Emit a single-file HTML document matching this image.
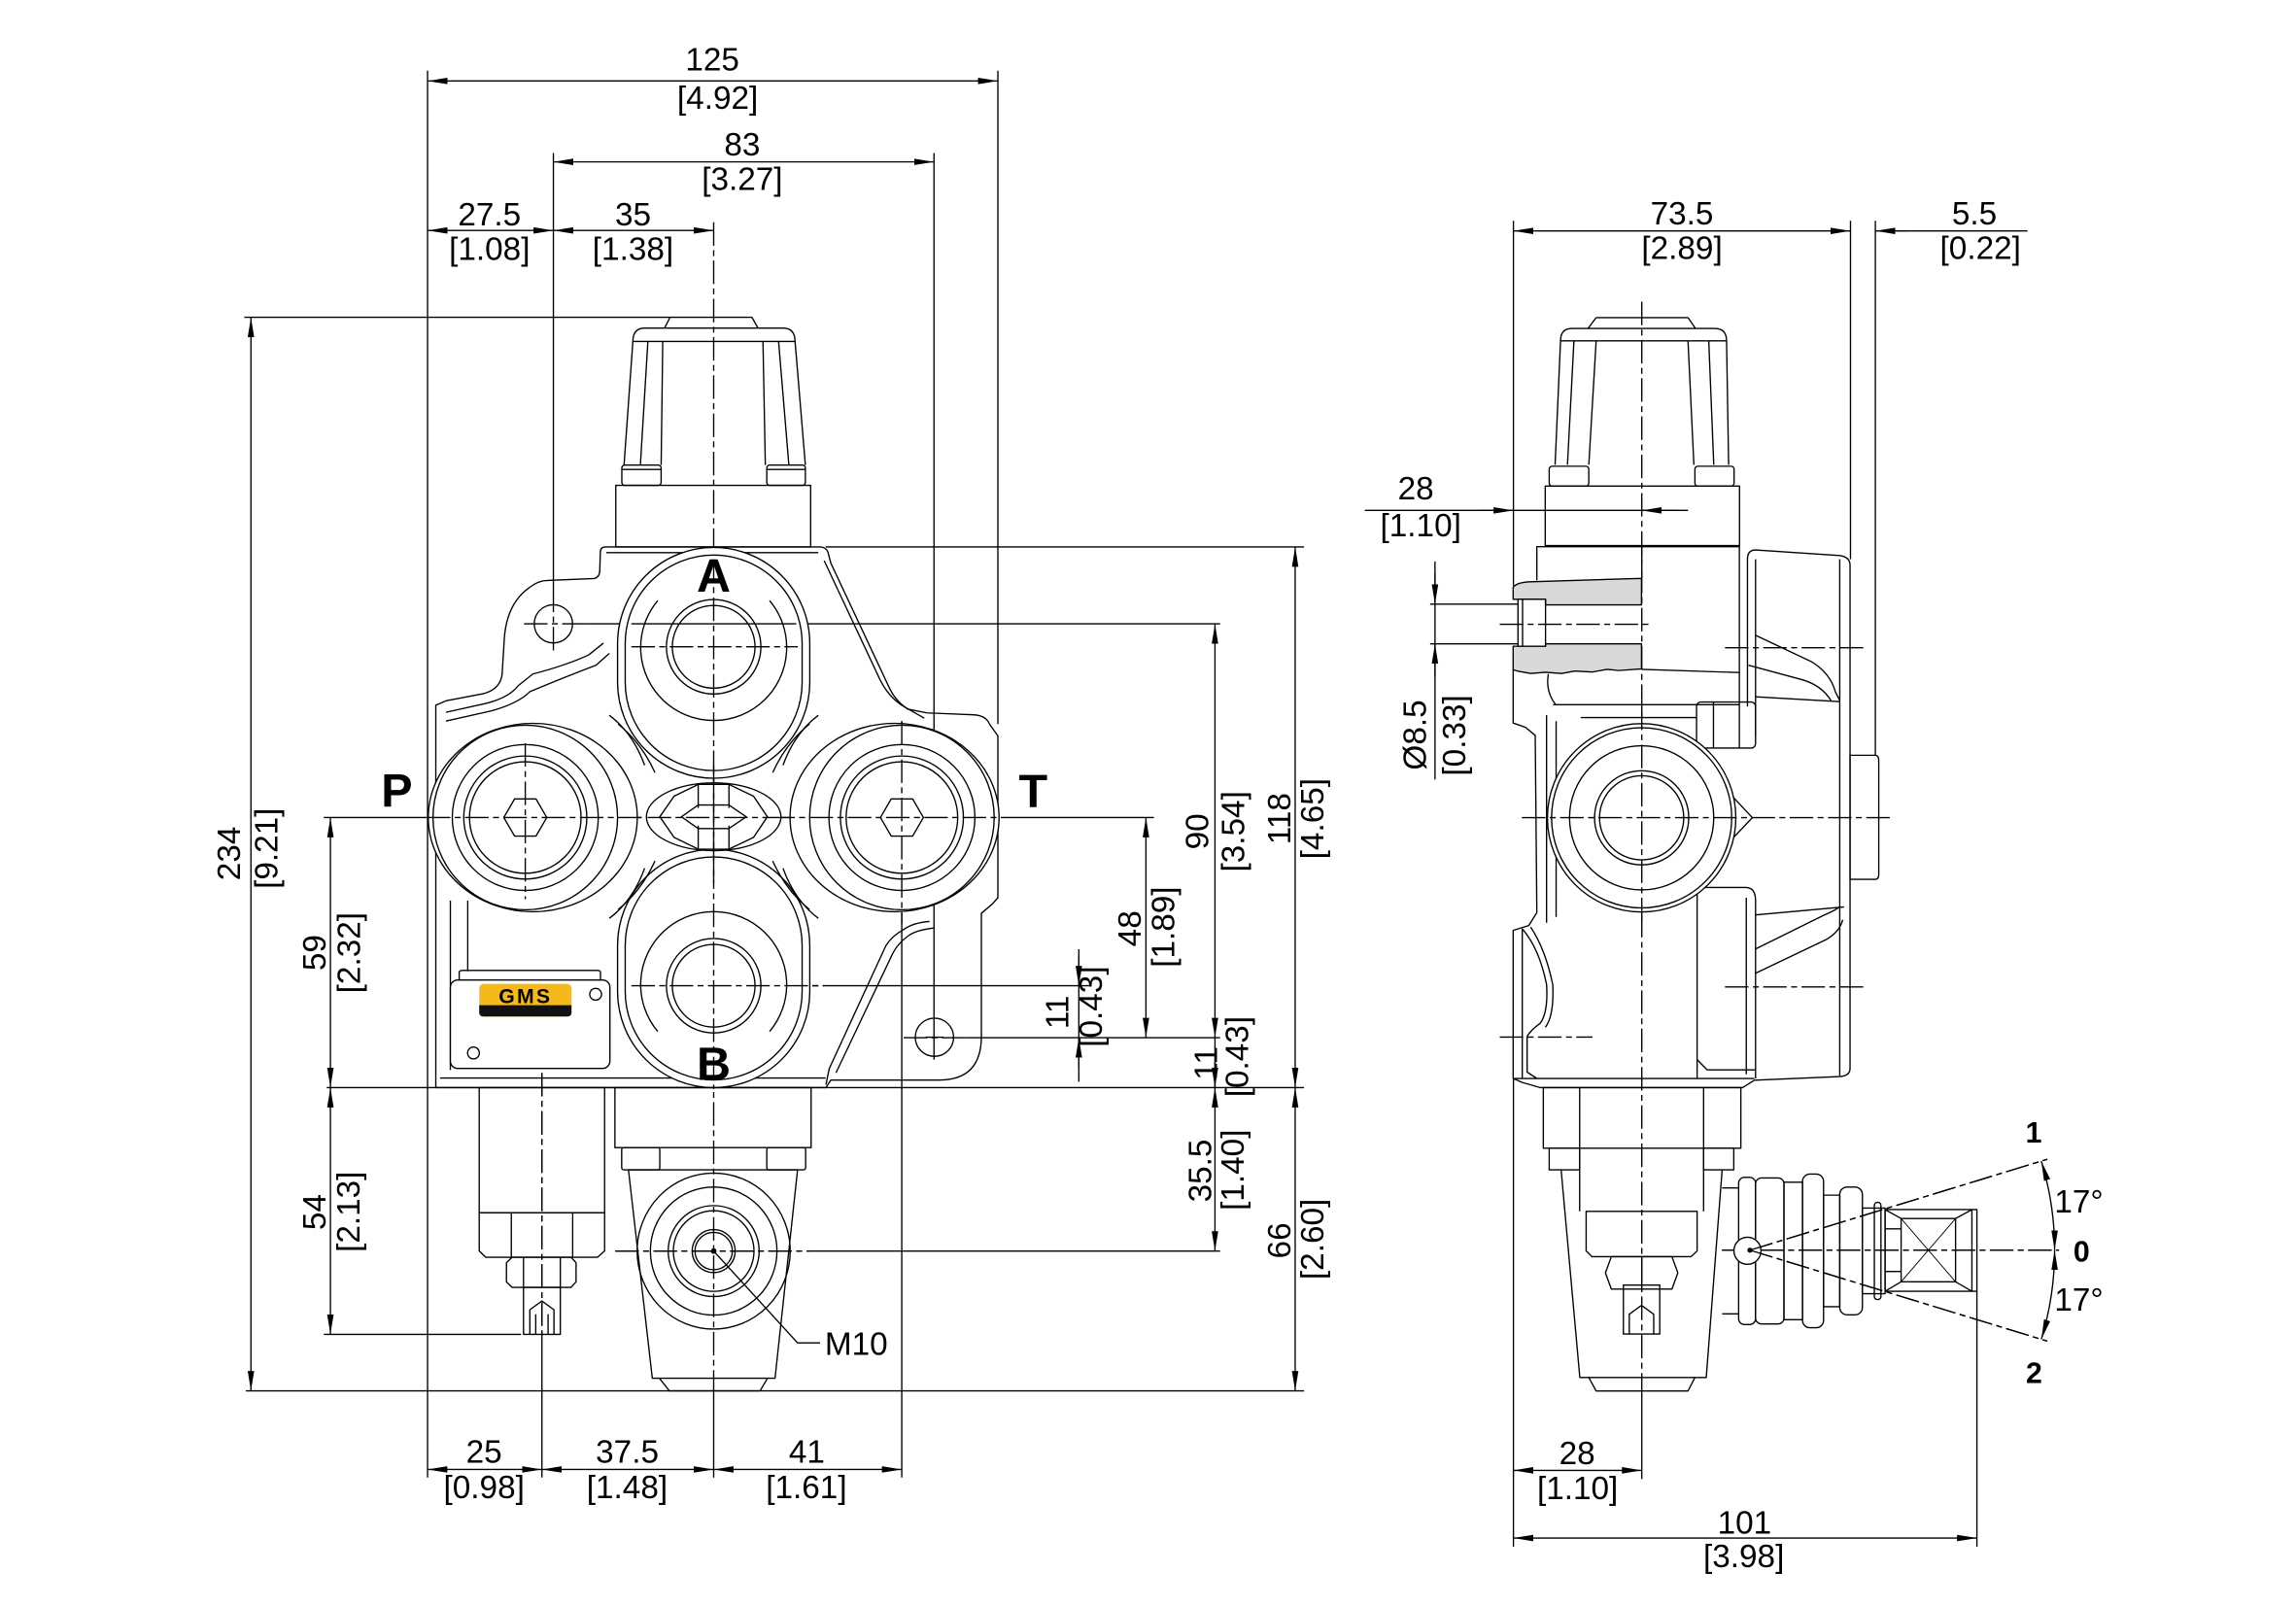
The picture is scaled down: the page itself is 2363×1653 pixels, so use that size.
<!DOCTYPE html>
<html><head><meta charset="utf-8">
<style>
html,body{margin:0;padding:0;background:#fff;}
svg{display:block;}
text{font-family:"Liberation Sans",sans-serif;fill:#000;stroke:none;}
.c{stroke-dasharray:16 3 4 3;}
.dd{marker-start:url(#a);marker-end:url(#a);}
.de{marker-end:url(#a);}
</style></head><body>
<svg xmlns="http://www.w3.org/2000/svg" width="2363" height="1653" viewBox="0 0 1560 1091.27">
<defs>
<marker id="a" viewBox="0 -3 14 6" refX="13.5" refY="0" markerWidth="14" markerHeight="6" markerUnits="userSpaceOnUse" orient="auto-start-reverse"><path d="M0,-2.2 L13.5,0 L0,2.2 z" fill="#000" stroke="none"/></marker>
</defs>
<rect width="1560" height="1091.27" fill="#fff"/>

<g fill="none" stroke="#000" stroke-width="0.9" stroke-linejoin="round">

<!-- ============ LEFT VIEW : extension / centre lines ============ -->
<line x1="290.5" y1="48" x2="290.5" y2="1004"/>
<line x1="678" y1="48" x2="678" y2="492"/>
<line x1="376" y1="104" x2="376" y2="400"/>
<line class="c" x1="376" y1="400" x2="376" y2="445"/>
<line x1="634.6" y1="104" x2="634.6" y2="720"/>
<line class="c" x1="484.9" y1="151" x2="484.9" y2="945"/>
<line x1="484.9" y1="945" x2="484.9" y2="1004"/>
<line class="c" x1="368.2" y1="729" x2="368.2" y2="907"/>
<line x1="368.2" y1="907" x2="368.2" y2="1004"/>
<line class="c" x1="612.7" y1="490" x2="612.7" y2="628"/>
<line x1="612.7" y1="628" x2="612.7" y2="1004"/>
<line class="c" x1="356.9" y1="505" x2="356.9" y2="611"/>

<line x1="166" y1="215.6" x2="511" y2="215.6"/>
<line x1="561" y1="371.6" x2="886" y2="371.6"/>
<line class="c" x1="356" y1="423.9" x2="398" y2="423.9"/>
<line x1="398" y1="423.9" x2="829" y2="423.9"/>
<line class="c" x1="429" y1="439.5" x2="542" y2="439.5"/>
<line x1="220" y1="555.5" x2="290" y2="555.5"/>
<line class="c" x1="290" y1="555.5" x2="680" y2="555.5"/>
<line x1="680" y1="555.5" x2="784" y2="555.5"/>
<line class="c" x1="429" y1="669.8" x2="560" y2="669.8"/>
<line x1="560" y1="669.8" x2="740" y2="669.8"/>
<line class="c" x1="614" y1="705.1" x2="656" y2="705.1"/>
<line x1="656" y1="705.1" x2="829" y2="705.1"/>
<line x1="222" y1="739" x2="886" y2="739"/>
<line class="c" x1="418" y1="850.1" x2="550" y2="850.1"/>
<line x1="550" y1="850.1" x2="829" y2="850.1"/>
<line x1="220" y1="906.7" x2="354" y2="906.7"/>
<line x1="167" y1="945.1" x2="886" y2="945.1"/>

<!-- ============ LEFT VIEW : dimension lines ============ -->
<line class="dd" x1="290.5" y1="55" x2="678" y2="55"/>
<line class="dd" x1="376" y1="110" x2="634.6" y2="110"/>
<line class="dd" x1="290.5" y1="156.6" x2="376" y2="156.6"/>
<line class="dd" x1="376" y1="156.6" x2="484.9" y2="156.6"/>
<line class="dd" x1="290.4" y1="998.5" x2="368.2" y2="998.5"/>
<line class="dd" x1="368.2" y1="998.5" x2="484.9" y2="998.5"/>
<line class="dd" x1="484.9" y1="998.5" x2="612.7" y2="998.5"/>
<line class="dd" x1="170.5" y1="215.6" x2="170.5" y2="945.1"/>
<line class="dd" x1="224.5" y1="555.5" x2="224.5" y2="739"/>
<line class="dd" x1="224.5" y1="739" x2="224.5" y2="906.7"/>
<line class="dd" x1="778.6" y1="555.5" x2="778.6" y2="705.1"/>
<line class="dd" x1="825.5" y1="423.9" x2="825.5" y2="705.1"/>
<line x1="825.5" y1="705.1" x2="825.5" y2="739"/>
<line class="de" x1="825.5" y1="722" x2="825.5" y2="739"/>
<line class="dd" x1="825.5" y1="739" x2="825.5" y2="850.1"/>
<line class="dd" x1="880" y1="371.6" x2="880" y2="739"/>
<line class="dd" x1="880" y1="739" x2="880" y2="945.1"/>
<line x1="733" y1="645" x2="733" y2="735"/>
<line class="de" x1="733" y1="650" x2="733" y2="669.8"/>
<line class="de" x1="733" y1="725" x2="733" y2="705.1"/>
<!-- M10 leader -->
<path d="M484.9,850.1 L541.9,912.5 L557.2,912.5"/>

<!-- ============ LEFT VIEW : valve cap ============ -->
<path d="M455.3,215.6 L451.5,222.9 M510.9,215.6 L515,222.9"/>
<path d="M424,316 L430,232 Q430,222.9 438,222.9 L532,222.9 Q540.2,222.9 540.2,232 L547.2,316"/>
<line x1="430" y1="232" x2="540.2" y2="232"/>
<path d="M440.2,232 L435.1,316 M450.3,232 L449.2,316 M518.4,232 L520,316 M529,232 L536,316"/>
<rect x="422.5" y="316" width="26.7" height="13.8" rx="2"/>
<line x1="422.5" y1="319" x2="449.2" y2="319"/>
<rect x="521" y="316" width="26.2" height="13.8" rx="2"/>
<line x1="521" y1="319" x2="547.2" y2="319"/>
<rect x="418.4" y="329.8" width="132.4" height="41.8"/>

<!-- ============ LEFT VIEW : body ============ -->
<path d="M296.1,739 L296.1,479.2 L303.4,476.1 L328.2,471.4 Q341.3,468 341.3,455.7 L342.6,434.8 Q344,410 360,399 Q366,394.4 372,394.4 L403.9,393.1 Q407.5,392 407.5,387.8 L407.9,375 Q408,371.6 411.5,371.6 L557,371.6 Q561,371.6 562.5,375 L564.5,382.6 L603.7,466.2 Q608,476 616.7,481.8 L629.8,484.4 L661,485.7 Q670,486 672.5,492.3 L678,500 L678,610 L674.5,614 L666.8,620.6 L666.8,704.2 Q666.8,733.9 638.2,733.9 L564.5,733.9 L561.2,739 Z"/>
<path d="M412,375.5 L556,375.5"/>
<path d="M560,381 L598,462 Q604,474 614,480 L628,488"/>
<path d="M303,484 L330,478 Q346,474 352,466 L362,458 Q385,452 400,445 L410,437"/>
<path d="M303,490 L334,483 Q352,478 360,470 Q384,460 405,452 L414,444"/>
<path d="M631.6,626.1 Q620,627 614,631.6 Q606,636 601.9,642.6 L563.4,726.2 L561.2,737"/>
<path d="M635,630.5 Q622,632 617,636 Q610,641 606.5,648 L568,729"/>
<line x1="299" y1="732.5" x2="561" y2="732.5"/>
<path d="M306,612 L306,727 M317.8,612 L317.8,660"/>
<circle cx="376" cy="423.9" r="13"/>
<circle cx="634.9" cy="704.8" r="13"/>
<line x1="629" y1="704.8" x2="641" y2="704.8"/>

<!-- A port -->
<path d="M419.6,437.3 A65.3,65.3 0 0 1 550.2,437.3 L550.2,463.5 A65.3,65.3 0 0 1 419.6,463.5 Z" fill="#fff"/>
<path d="M424.8,437.3 A60.1,60.1 0 0 1 545,437.3 L545,463.5 A60.1,60.1 0 0 1 424.8,463.5 Z"/>
<path d="M446.9,408.1 A49.6,49.6 0 1 0 522.9,408.1"/>
<circle cx="484.9" cy="439.5" r="32.1"/>
<circle cx="484.9" cy="439.5" r="28.1"/>
<line x1="429" y1="423.9" x2="541" y2="423.9"/>
<line class="c" x1="429" y1="439.5" x2="542" y2="439.5"/>
<!-- B port -->
<path d="M419.6,642.4 A65.3,65.3 0 0 1 550.2,642.4 L550.2,673.7 A65.3,65.3 0 0 1 419.6,673.7 Z" fill="#fff"/>
<path d="M424.8,642.4 A60.1,60.1 0 0 1 545,642.4 L545,673.7 A60.1,60.1 0 0 1 424.8,673.7 Z"/>
<path d="M522.9,700.9 A49.6,49.6 0 1 0 446.9,700.9"/>
<circle cx="484.9" cy="669.8" r="32.1"/>
<circle cx="484.9" cy="669.8" r="28.1"/>
<line class="c" x1="429" y1="669.8" x2="560" y2="669.8"/>
<!-- P port -->
<ellipse cx="362" cy="555.5" rx="71" ry="64" fill="#fff"/>
<circle cx="356.9" cy="555.5" r="62.7"/>
<circle cx="356.9" cy="555.5" r="49.6"/>
<circle cx="356.9" cy="555.5" r="41.8"/>
<circle cx="356.9" cy="555.5" r="37.9"/>
<polygon points="371.5,555.5 364.2,542.9 349.6,542.9 342.3,555.5 349.6,568.1 364.2,568.1"/>
<!-- T port -->
<ellipse cx="607.8" cy="555.5" rx="71" ry="64" fill="#fff"/>
<circle cx="612.8" cy="555.5" r="62.7"/>
<circle cx="612.8" cy="555.5" r="49.6"/>
<circle cx="612.8" cy="555.5" r="41.8"/>
<circle cx="612.8" cy="555.5" r="37.9"/>
<polygon points="627.4,555.5 620.1,542.9 605.5,542.9 598.2,555.5 605.5,568.1 620.1,568.1"/>
<line class="c" x1="290" y1="555.5" x2="680" y2="555.5"/>
<line class="c" x1="356.9" y1="505" x2="356.9" y2="611"/>
<line class="c" x1="612.7" y1="490" x2="612.7" y2="628"/>
<!-- fillets between bosses -->
<path d="M420,492 Q436,505 445,525 M550,492 Q534,505 525,525 M420,618 Q436,605 445,585 M550,618 Q534,605 525,585"/>
<path d="M414,486 Q430,498 438,520 M556,486 Q540,498 532,520 M414,624 Q430,612 438,590 M556,624 Q540,612 532,590"/>
<!-- centre hexagon -->
<ellipse cx="484.9" cy="555" rx="45.7" ry="23" fill="#fff"/>
<polygon points="448.3,555 458,541 474.4,533 495.3,533 512,541 521.4,555 512,569 495.3,577 474.4,577 458,569"/>
<path d="M474.4,533 L474.4,549 M495.3,533 L495.3,549 M474.4,561 L474.4,577 M495.3,561 L495.3,577"/>
<polygon points="463,555 474.4,547 495.3,547 507,555 495.3,563 474.4,563"/>
<line class="c" x1="484.9" y1="520" x2="484.9" y2="600"/>
<line class="c" x1="440" y1="555.5" x2="530" y2="555.5"/>
<line class="c" x1="484.9" y1="380" x2="484.9" y2="740"/>

<!-- GMS plate -->
<rect x="306" y="665.9" width="108.4" height="60.1" rx="5" fill="#fff"/>
<path d="M312,665.9 L312,661 Q312,659.4 314,659.4 L406,659.4 Q408,659.4 408,661 L408,665.9"/>
<circle cx="404.7" cy="675.6" r="4"/>
<circle cx="321.7" cy="715.5" r="4"/>

<!-- ============ LEFT VIEW : lower parts ============ -->
<rect x="417.8" y="739" width="133.3" height="40.8"/>
<rect x="422.4" y="779.8" width="25.9" height="15.1" rx="1.5"/>
<rect x="521" y="779.8" width="26.4" height="15.1" rx="1.5"/>
<polygon points="427,794.9 541.9,794.9 526.6,936.5 443.2,936.5"/>
<path d="M448,936.5 L454.8,945.1 L516.4,945.1 L521.5,936.5"/>
<ellipse cx="484.9" cy="850.1" rx="52" ry="53"/>
<ellipse cx="484.9" cy="850.1" rx="43" ry="43.5"/>
<circle cx="484.9" cy="850.1" r="30.9"/>
<circle cx="484.9" cy="850.1" r="27.4"/>
<circle cx="484.9" cy="850.1" r="14.6"/>
<circle cx="484.9" cy="850.1" r="12.7"/>
<circle cx="484.9" cy="850.1" r="1.5" fill="#000"/>
<line class="c" x1="418" y1="850.1" x2="550" y2="850.1"/>
<!-- relief valve -->
<rect x="325.6" y="739" width="85.2" height="85"/>
<path d="M325.6,824 L410.8,824 L410.8,850 L406,854.3 L330,854.3 L325.6,850 Z"/>
<path d="M347.4,824 L347.4,854.3 M389.1,824 L389.1,854.3"/>
<path d="M348,854.3 L388,854.3 L391.4,858 L391.4,871 L388,874.8 L348,874.8 L344.1,871 L344.1,858 Z"/>
<path d="M355.7,854.3 L355.7,874.8 M380.7,854.3 L380.7,874.8"/>
<rect x="355.7" y="874.8" width="25" height="31.9"/>
<path d="M360,906.7 L360,890 L368.2,884 L376.4,890 L376.4,906.7 M364,893 L364,906.7 M372.4,893 L372.4,906.7"/>
<line class="c" x1="368.2" y1="729" x2="368.2" y2="907"/>

<!-- ============ RIGHT VIEW : ext / centre lines ============ -->
<line x1="1028.3" y1="150" x2="1028.3" y2="398"/>
<line x1="1257.3" y1="150" x2="1257.3" y2="380"/>
<line x1="1274.2" y1="150" x2="1274.2" y2="513.2"/>
<line x1="1028.3" y1="733" x2="1028.3" y2="1051"/>
<line x1="1343.2" y1="877.4" x2="1343.2" y2="1051"/>
<line class="c" x1="1115.5" y1="205" x2="1115.5" y2="945"/>
<line x1="1115.5" y1="945" x2="1115.5" y2="1005"/>
<line x1="971.7" y1="410.5" x2="1031.4" y2="410.5"/>
<line x1="971.7" y1="437.5" x2="1031.4" y2="437.5"/>

<!-- RIGHT VIEW : dimensions -->
<line class="dd" x1="1028.3" y1="156.9" x2="1257.3" y2="156.9"/>
<line x1="1274.2" y1="156.9" x2="1377.6" y2="156.9"/>
<line class="de" x1="1296" y1="156.9" x2="1274.2" y2="156.9"/>
<line x1="927.3" y1="346.8" x2="1146.9" y2="346.8"/>
<line class="de" x1="1005" y1="346.8" x2="1028.3" y2="346.8"/>
<line class="de" x1="1140" y1="346.8" x2="1115.5" y2="346.8"/>
<line x1="975" y1="381.5" x2="975" y2="529.7"/>
<line class="de" x1="975" y1="390" x2="975" y2="410.5"/>
<line class="de" x1="975" y1="460" x2="975" y2="437.5"/>
<line class="dd" x1="1028.3" y1="999.1" x2="1115.5" y2="999.1"/>
<line class="dd" x1="1028.3" y1="1045.1" x2="1343.2" y2="1045.1"/>
<!-- angle -->
<path class="dd" d="M1396,849.5 A207,207 0 0 0 1386.96,788.98"/>
<path class="dd" d="M1396,849.5 A207,207 0 0 1 1386.96,910.02"/>
<line class="c" x1="1189" y1="849.5" x2="1391" y2="787.7"/>
<line class="c" x1="1189" y1="849.5" x2="1391" y2="911.3"/>
<line class="c" x1="1170" y1="849.5" x2="1399" y2="849.5"/>

<!-- RIGHT VIEW : cap -->
<path d="M1084.5,215.8 L1146.9,215.8 M1084.5,215.8 L1079,223.2 M1146.9,215.8 L1152,223.2"/>
<path d="M1056.6,315.8 L1060.3,231.6 Q1060.3,223.2 1068,223.2 L1165,223.2 Q1173.1,223.2 1173.1,231.6 L1174.5,315.8"/>
<line x1="1060.3" y1="231.6" x2="1173.1" y2="231.6"/>
<path d="M1069.4,231.6 L1065,315.8 M1084.5,231.6 L1079.5,315.8 M1146.9,231.6 L1150.9,315.8 M1161,231.6 L1164.4,315.8"/>
<rect x="1052.6" y="316.8" width="26.9" height="13.5" rx="2"/>
<rect x="1151.6" y="316.8" width="26.6" height="13.5" rx="2"/>
<rect x="1049.9" y="330.3" width="132" height="40.4"/>

<!-- RIGHT VIEW : body -->
<path d="M1044.2,394.3 L1044.2,371.5 L1181.8,371.5 L1181.8,508"/>
<path d="M1028.1,455 L1028.1,491.3 L1036.5,494.2 L1043.1,499.7 L1044.2,620.1 L1038.7,628.9 L1028.1,632.2 L1028.1,732.8 L1034.3,735.5 L1046.4,739 L1184,739 L1192,734 L1250,731.5 Q1257,731 1257,726 L1257,384 Q1257,378.5 1250,377.5 L1192.8,373.7 Q1187.3,373.7 1187.3,380 L1187.3,480"/>
<line x1="1028.1" y1="732.8" x2="1192" y2="732.8"/>
<line x1="1250" y1="380" x2="1250" y2="731"/>
<line x1="1192.8" y1="380" x2="1192.8" y2="500"/>
<path d="M1274.2,513.2 L1257,513.2 L1257,597.5 L1274.2,597.5 Q1276.5,597.5 1276.5,594 L1276.5,517 Q1276.5,513.2 1274.2,513.2"/>
<!-- gray section -->
<path d="M1028.1,399 Q1031,395.5 1040,395.3 L1115.3,393 L1115.3,411 L1050.1,411 L1050.1,407.2 L1028.1,407.2 Z" fill="#d9d9d9"/>
<path d="M1028.1,439.1 L1050.1,439.1 L1050.1,437.5 L1115.3,437.5 L1115.3,454.5 L1100,455.6 L1092,454.8 L1082,456.6 L1070,456 L1061,457.6 L1050,456.8 L1040,457.6 L1031,456 L1028.1,455 Z" fill="#d9d9d9"/>
<rect x="1031.4" y="407.2" width="18.7" height="31.9"/>
<line x1="1034.5" y1="407.2" x2="1034.5" y2="439.1"/>
<line class="c" x1="1019" y1="424.2" x2="1120" y2="424.2"/>
<path d="M1115.3,454.8 L1181.8,457 M1055.3,478.8 L1181.8,478.8 M1074,487.6 L1153,487.6"/>
<path d="M1052,458 Q1050,470 1057,478.8"/>
<rect x="1152.7" y="477" width="40.1" height="31.3" rx="3"/>
<line x1="1164.2" y1="477" x2="1164.2" y2="508.3"/>
<path d="M1050.8,486 L1050.8,627 M1057.3,490 L1057.3,623"/>
<!-- arms -->
<path d="M1192.8,431.7 L1230.2,449.3 Q1243.4,457 1247,470 L1250,476 M1192.8,473.5 L1250,476.8 M1188,452 L1225,462 Q1238,466 1244,476"/>
<path d="M1192.8,621.7 L1253,616.2 M1192.8,644.8 L1239,622 Q1248,618 1250,616 M1192.8,661.3 L1241.2,638.2 Q1250,633 1252,625"/>
<line class="c" x1="1172" y1="440.1" x2="1269" y2="440.1"/>
<line class="c" x1="1172" y1="670.6" x2="1267" y2="670.6"/>
<path d="M1153.1,732.8 L1153.1,608 Q1153.1,603 1158,603 L1186,603 Q1192.8,603 1192.8,612 L1192.8,732.8"/>
<line x1="1186.5" y1="610" x2="1186.5" y2="730"/>
<path d="M1153.1,720 L1160,727 L1192.8,727"/>
<!-- lower-left curvy -->
<path d="M1034.3,631 L1034.3,732.8 M1034.7,631.6 Q1046,645 1050.8,669 Q1052,688 1046.4,695.4 Q1040,700 1037.6,704.2 L1037.6,728.5 L1044.2,732.8"/>
<path d="M1040,630 Q1050,645 1055,669 Q1056,690 1050,698"/>
<line class="c" x1="1019" y1="704.7" x2="1082" y2="704.7"/>
<!-- port -->
<path d="M1176,540 L1190.6,555.6 L1176,571" fill="#fff"/>
<circle cx="1115.4" cy="555.7" r="64" fill="#fff"/>
<circle cx="1115.4" cy="555.7" r="61.2"/>
<circle cx="1115.4" cy="555.7" r="49"/>
<circle cx="1115.4" cy="555.7" r="32"/>
<circle cx="1115.4" cy="555.7" r="28.6"/>
<line class="c" x1="1034" y1="555.6" x2="1284" y2="555.6"/>
<line class="c" x1="1115.5" y1="480" x2="1115.5" y2="630"/>
<line x1="1115.5" y1="371.5" x2="1115.5" y2="393"/>

<!-- RIGHT VIEW : lower parts -->
<rect x="1048.6" y="739" width="134.2" height="41.2"/>
<path d="M1073.3,739 L1073.3,823.1 M1157.5,739 L1157.5,823.1"/>
<rect x="1052.6" y="780.2" width="20.7" height="14.7"/>
<rect x="1157.5" y="780.2" width="20.5" height="14.7"/>
<path d="M1060.7,794.9 L1073.4,936 L1159.3,936 L1170.1,794.9"/>
<path d="M1079.5,936 L1084.5,945.2 L1146.9,945.2 L1151.6,936"/>
<path d="M1077.7,823.1 L1153.1,823.1 L1153.1,850 L1149,853.9 L1081.7,853.9 L1077.7,850 Z"/>
<path d="M1094.8,853.9 L1136,853.9 L1140,864.9 L1136,875.9 L1094.8,875.9 L1090.8,864.9 Z"/>
<line x1="1115.5" y1="853.9" x2="1115.5" y2="875.9"/>
<rect x="1103" y="873.2" width="24.7" height="33.3"/>
<path d="M1107,906.5 L1107,893 L1115.3,887 L1123.6,893 L1123.6,906.5"/>
<!-- handle -->
<path d="M1170.1,807.2 L1181.3,807.2 M1170.1,892.8 L1181.3,892.8"/>
<rect x="1181.3" y="800" width="11.5" height="100" rx="4" fill="#fff"/>
<rect x="1192.8" y="800.4" width="19.3" height="99.2" rx="4"/>
<rect x="1212.1" y="803.3" width="12.6" height="93.4"/>
<rect x="1224.7" y="797.8" width="14.3" height="104.4" rx="5"/>
<rect x="1239" y="812.1" width="11" height="75.8"/>
<rect x="1250" y="806.6" width="15.4" height="86.8" rx="5"/>
<rect x="1265.4" y="820.9" width="15.4" height="58.2"/>
<rect x="1273.5" y="817" width="4.5" height="66" rx="2"/>
<rect x="1280.8" y="821.9" width="62.4" height="55.5"/>
<rect x="1291.7" y="828" width="37" height="43"/>
<path d="M1280.8,821.9 L1291.7,828 M1280.8,877.4 L1291.7,871 M1328.7,828 L1339.8,821.9 M1328.7,871 L1339.8,877.4 M1339.8,821.9 L1339.8,877.4"/>
<path d="M1291.7,828 L1328.7,871 M1328.7,828 L1291.7,871" stroke-width="0.6"/>
<path d="M1280.8,835 L1291.7,835 M1280.8,864 L1291.7,864"/>
<line class="c" x1="1170" y1="849.5" x2="1399" y2="849.5"/>
<circle cx="1187.3" cy="849.9" r="9.2" fill="#fff"/>
<circle cx="1189" cy="849.5" r="1.3" fill="#000"/>
<line class="c" x1="1189" y1="849.5" x2="1391" y2="787.7"/>
<line class="c" x1="1189" y1="849.5" x2="1391" y2="911.3"/>
</g>

<!-- GMS label -->
<rect x="325.6" y="668.5" width="62.7" height="22.2" rx="3" fill="#F6B91A"/>
<path d="M325.6,683 L388.3,683 L388.3,688 Q388.3,690.7 385.6,690.7 L328.3,690.7 Q325.6,690.7 325.6,688 Z" fill="#111"/>
<text x="357" y="681.5" font-size="14" font-weight="bold" text-anchor="middle" letter-spacing="1.5" fill="#111">GMS</text>

<!-- ============ TEXT ============ -->
<g font-size="22" text-anchor="middle">
<text x="484" y="48">125</text>
<text x="487.6" y="74">[4.92]</text>
<text x="504.3" y="105.6">83</text>
<text x="504.3" y="129">[3.27]</text>
<text x="332.6" y="153">27.5</text>
<text x="332.6" y="176.5">[1.08]</text>
<text x="430.1" y="153">35</text>
<text x="430.1" y="176.5">[1.38]</text>
<text x="328.9" y="994">25</text>
<text x="328.9" y="1018">[0.98]</text>
<text x="426.2" y="994">37.5</text>
<text x="426.1" y="1018">[1.48]</text>
<text x="548.2" y="994">41</text>
<text x="547.9" y="1018">[1.61]</text>
<text x="1142.8" y="152.5">73.5</text>
<text x="1142.8" y="176">[2.89]</text>
<text x="1341.5" y="152.5">5.5</text>
<text x="1345.6" y="176">[0.22]</text>
<text x="962" y="339.4">28</text>
<text x="965.3" y="364.5">[1.10]</text>
<text x="1071.6" y="995">28</text>
<text x="1071.9" y="1018.5">[1.10]</text>
<text x="1185.3" y="1042">101</text>
<text x="1184.8" y="1065">[3.98]</text>
<text x="1412.5" y="824">17°</text>
<text x="1412.5" y="890.7">17°</text>

<text transform="translate(163.1,579.9) rotate(-90)">234</text>
<text transform="translate(188.4,576.5) rotate(-90)">[9.21]</text>
<text transform="translate(221.3,647.4) rotate(-90)">59</text>
<text transform="translate(244.5,647.4) rotate(-90)">[2.32]</text>
<text transform="translate(221,823.6) rotate(-90)">54</text>
<text transform="translate(244.2,823.4) rotate(-90)">[2.13]</text>
<text transform="translate(774.9,631) rotate(-90)">48</text>
<text transform="translate(797.9,629.9) rotate(-90)">[1.89]</text>
<text transform="translate(821,565) rotate(-90)">90</text>
<text transform="translate(845.2,565) rotate(-90)">[3.54]</text>
<text transform="translate(876.6,556.3) rotate(-90)">118</text>
<text transform="translate(899.2,556.3) rotate(-90)">[4.65]</text>
<text transform="translate(876.6,843) rotate(-90)">66</text>
<text transform="translate(899.2,842) rotate(-90)">[2.60]</text>
<text transform="translate(725.9,687.8) rotate(-90)">11</text>
<text transform="translate(748.7,684) rotate(-90)">[0.43]</text>
<text transform="translate(826.9,722.5) rotate(-90)">11</text>
<text transform="translate(847.9,718) rotate(-90)">[0.43]</text>
<text transform="translate(822.9,795.5) rotate(-90)">35.5</text>
<text transform="translate(845.1,795) rotate(-90)">[1.40]</text>
<text transform="translate(968.9,499.4) rotate(-90)">Ø8.5</text>
<text transform="translate(995.7,499.7) rotate(-90)">[0.33]</text>
</g>
<text x="560.4" y="920.5" font-size="22">M10</text>

<g font-weight="bold" text-anchor="middle">
<text x="484.9" y="402.2" font-size="32">A</text>
<text x="484.9" y="733.8" font-size="32">B</text>
<text x="269.6" y="548" font-size="32">P</text>
<text x="702" y="548.5" font-size="32">T</text>
<text x="1381.8" y="776.5" font-size="20">1</text>
<text x="1414.3" y="857.4" font-size="20">0</text>
<text x="1382" y="939.8" font-size="20">2</text>
</g>
</svg>
</body></html>
